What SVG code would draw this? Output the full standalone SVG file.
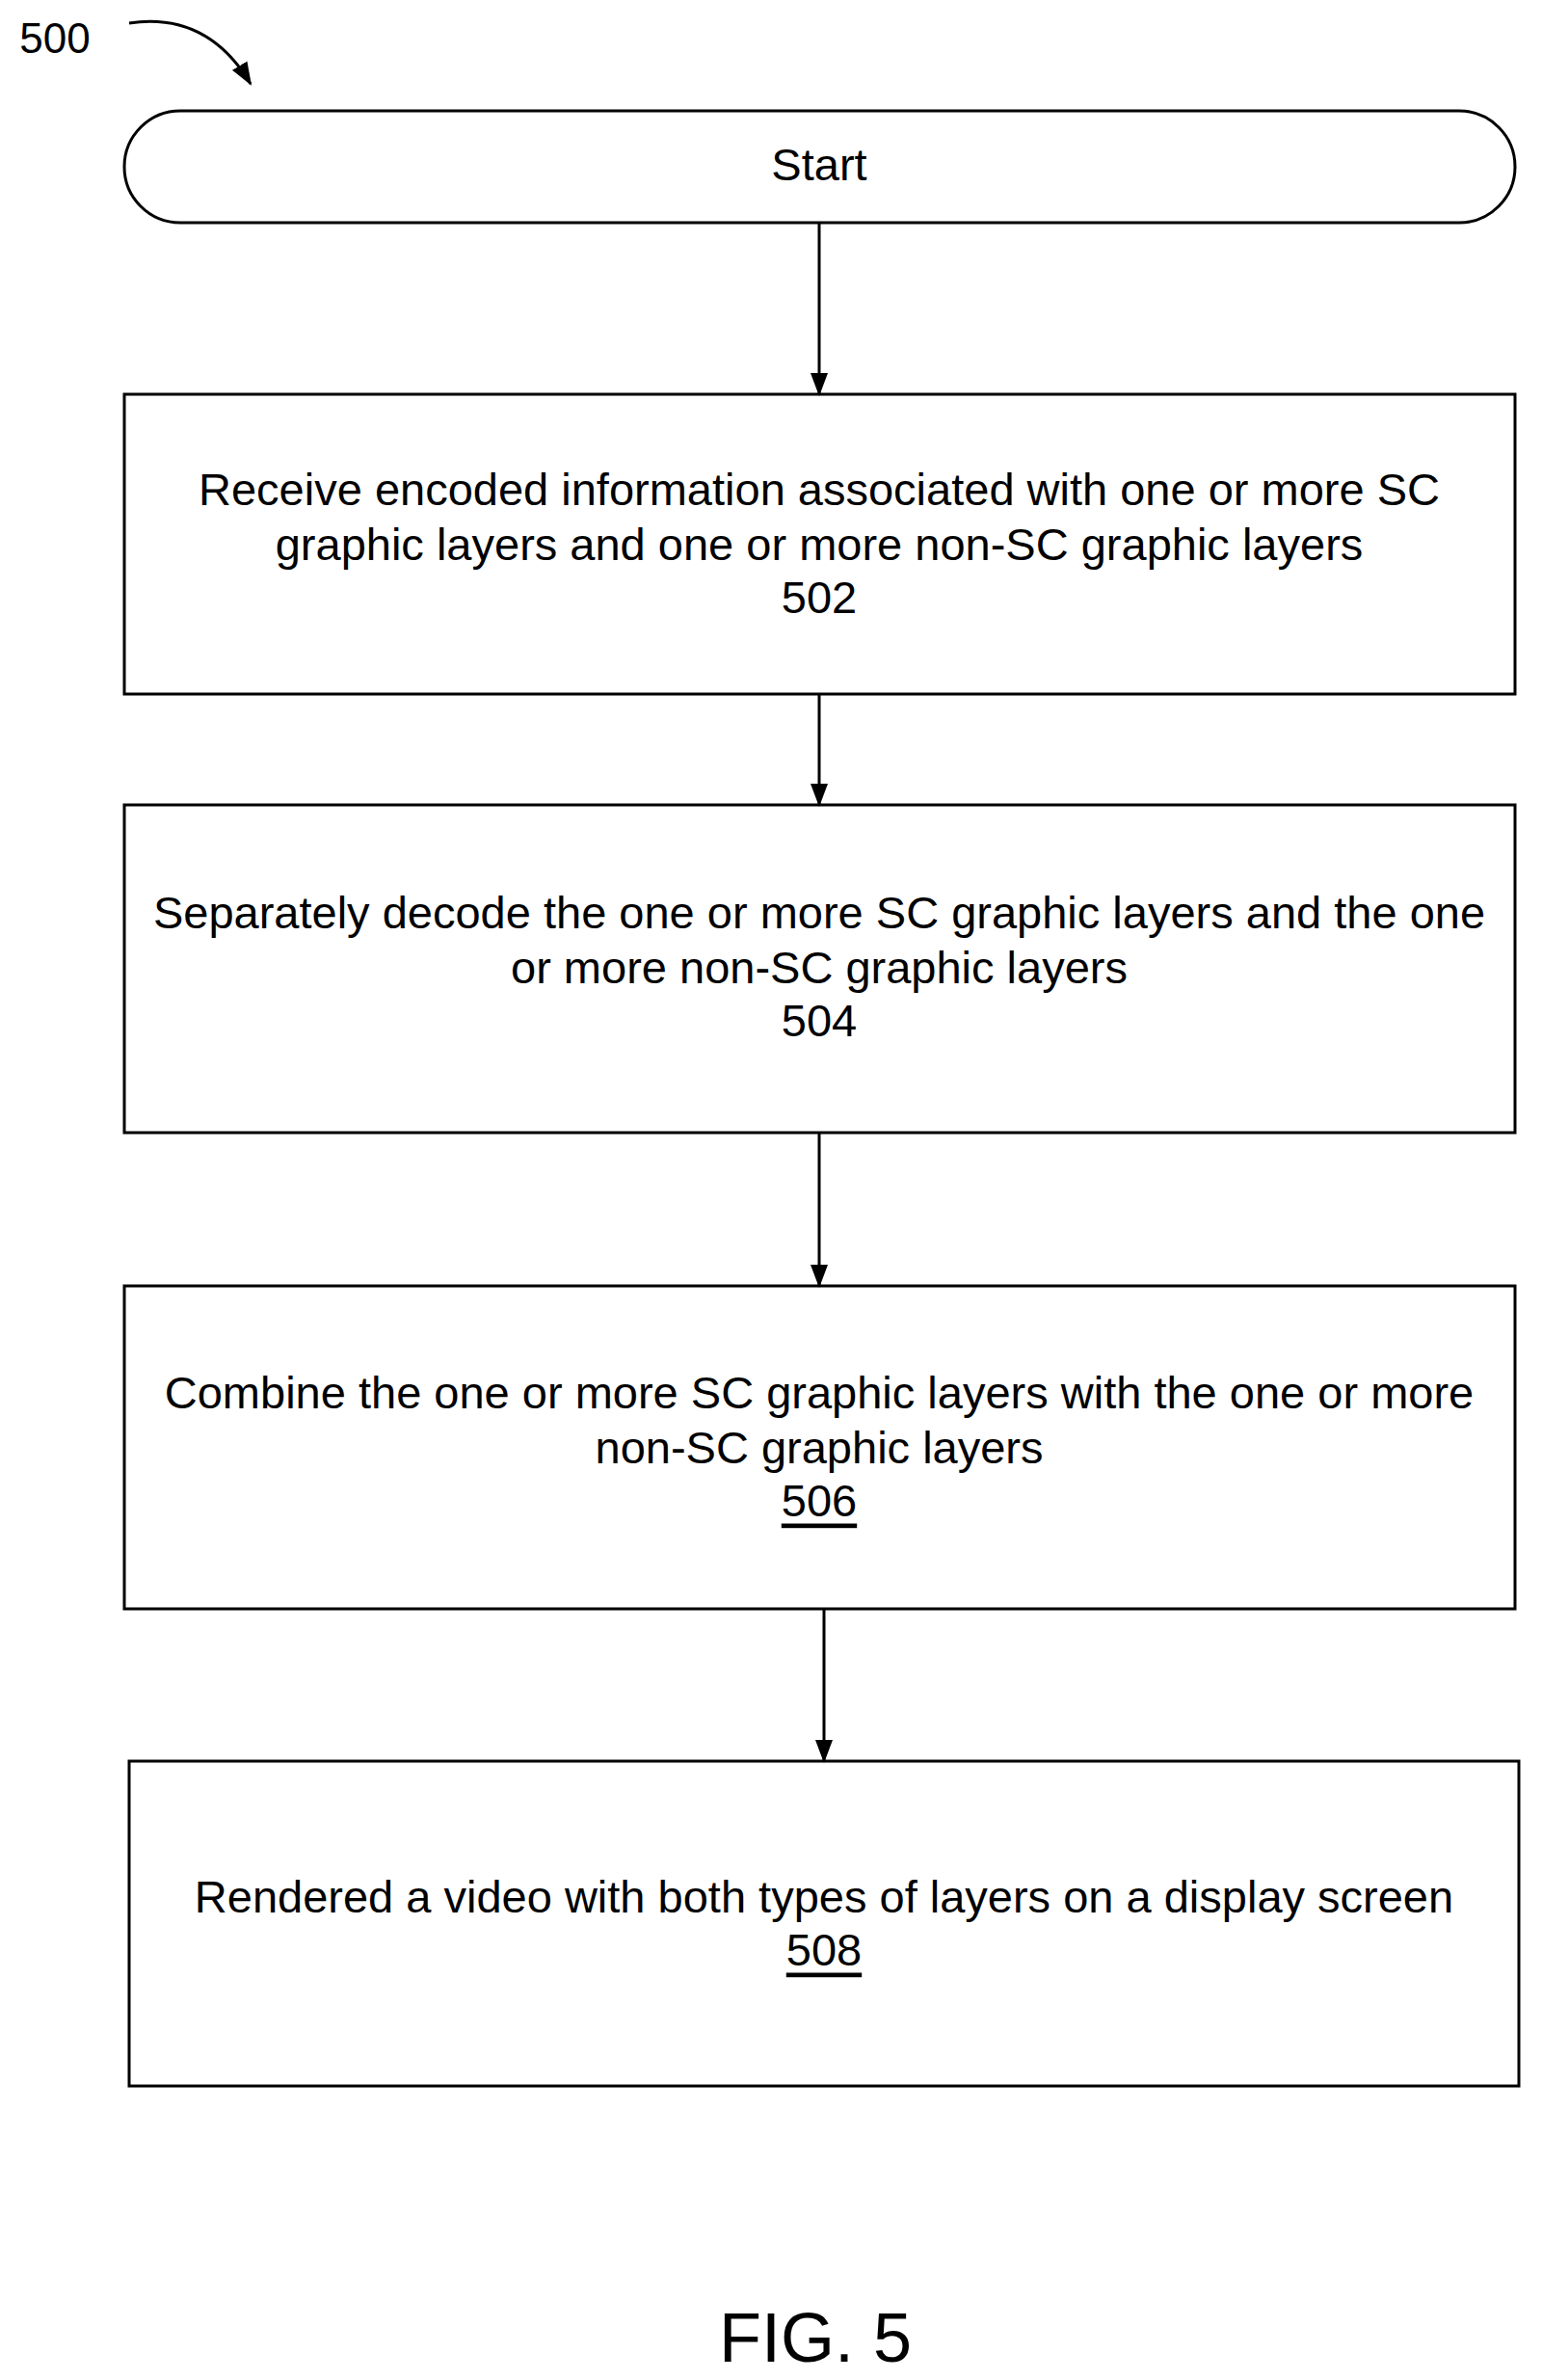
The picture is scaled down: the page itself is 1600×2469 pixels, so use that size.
<svg xmlns="http://www.w3.org/2000/svg" width="1600" height="2469" viewBox="0 0 1600 2469">
<style>
.b{fill:#fff;stroke:#000;stroke-width:3}
.t{font-family:"Liberation Sans",Arial,sans-serif;font-size:47px;fill:#000;text-anchor:middle;dominant-baseline:central}
.c{stroke:#000;stroke-width:3;fill:none}
</style>
<defs>
<marker id="h" markerWidth="24" markerHeight="24" refX="22" refY="12" orient="auto" markerUnits="userSpaceOnUse" viewBox="0 0 24 24"><path d="M0,3L24,12L0,21z" fill="#000"/></marker></defs>
<rect width="1600" height="2469" fill="#fff"/>
<g id="label500"><text class="t" x="57" y="39" style="font-size:44px">500</text><path class="c" d="M134,24 Q215,12 260,87" stroke-width="2" marker-end="url(#h)"/></g>
<g id="start"><rect class="b" x="129" y="115" width="1443" height="116" rx="58"/><text class="t" x="850" y="170">Start</text></g>
<g id="n502"><rect class="b" x="129" y="409" width="1443" height="311"/><text class="t" x="850" y="507">Receive encoded information associated with one or more SC</text><text class="t" x="850" y="564">graphic layers and one or more non-SC graphic layers</text><text class="t" x="850" y="619">502</text></g>
<g id="n504"><rect class="b" x="129" y="835" width="1443" height="340"/><text class="t" x="850" y="946">Separately decode the one or more SC graphic layers and the one</text><text class="t" x="850" y="1003">or more non-SC graphic layers</text><text class="t" x="850" y="1058">504</text></g>
<g id="n506"><rect class="b" x="129" y="1334" width="1443" height="335"/><text class="t" x="850" y="1444">Combine the one or more SC graphic layers with the one or more</text><text class="t" x="850" y="1501">non-SC graphic layers</text><text class="t" x="850" y="1556" text-decoration="underline">506</text></g>
<g id="n508"><rect class="b" x="134" y="1827" width="1442" height="337"/><text class="t" x="855" y="1967">Rendered a video with both types of layers on a display screen</text><text class="t" x="855" y="2022" text-decoration="underline">508</text></g>
<g id="connectors">
<path class="c" d="M850,231V409" marker-end="url(#h)"/>
<path class="c" d="M850,720V835" marker-end="url(#h)"/>
<path class="c" d="M850,1175V1334" marker-end="url(#h)"/>
<path class="c" d="M855,1669V1827" marker-end="url(#h)"/>
</g>
<text class="t" x="846" y="2425" style="font-size:72px">FIG. 5</text>
</svg>
